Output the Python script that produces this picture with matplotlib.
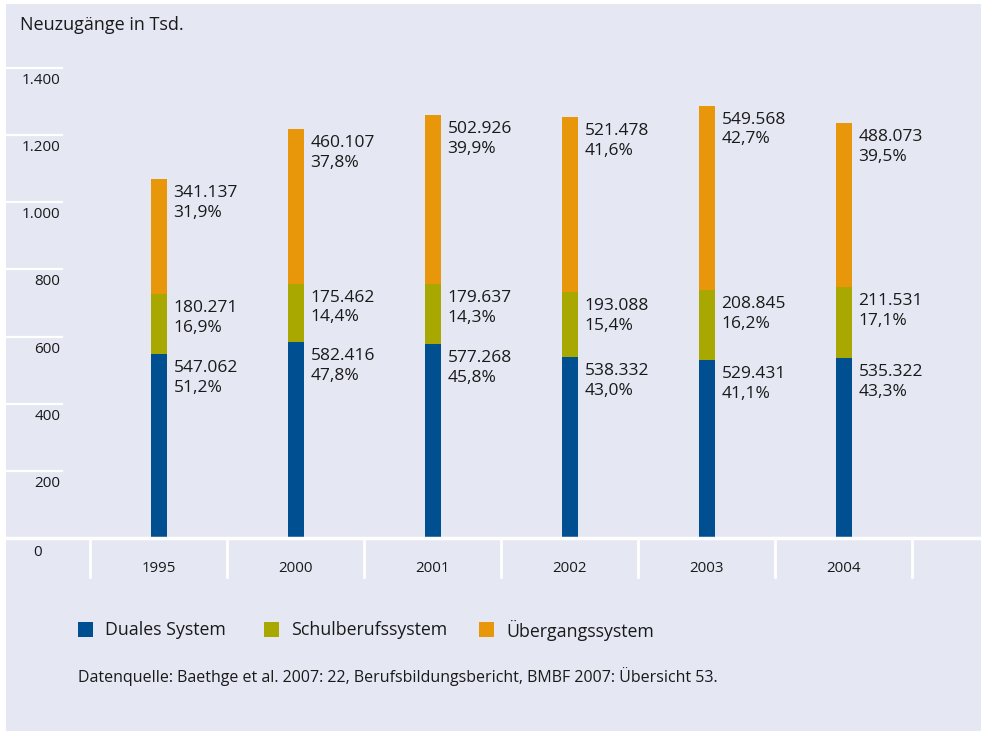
import matplotlib
matplotlib.use("Agg")
import matplotlib.pyplot as plt
from matplotlib.transforms import blended_transform_factory
from matplotlib.patches import Rectangle

plt.rcParams['font.family'] = ['Open Sans', 'DejaVu Sans']

years = ["1995", "2000", "2001", "2002", "2003", "2004"]
duales = [547.062, 582.416, 577.268, 538.332, 529.431, 535.322]
schul = [180.271, 175.462, 179.637, 193.088, 208.845, 211.531]
uebergang = [341.137, 460.107, 502.926, 521.478, 549.568, 488.073]
duales_pct = ["51,2%", "47,8%", "45,8%", "43,0%", "41,1%", "43,3%"]
schul_pct = ["16,9%", "14,4%", "14,3%", "15,4%", "16,2%", "17,1%"]
ueber_pct = ["31,9%", "37,8%", "39,9%", "41,6%", "42,7%", "39,5%"]
yticks = [200, 400, 600, 800, 1000, 1200, 1400]
ytick_labels = ["200", "400", "600", "800", "1.000", "1.200", "1.400"]
series_names = ["Duales System", "Schulberufssystem", "Übergangssystem"]
colors = ["#004f91", "#a9a800", "#e8960a"]
bg = "#e5e7f3"

W, H = 981, 731
fig = plt.figure(figsize=(W / 100, H / 100), dpi=100)
fig.patch.set_facecolor("white")
# panel background
bgrect = Rectangle((6 / W, 0), 1 - 6 / W, (H - 4) / H, transform=fig.transFigure,
                   facecolor=bg, edgecolor="none", zorder=-10)
fig.add_artist(bgrect)

ax_left, ax_right = 6, 981
y0_px, y1400_px = 538, 68
ax = fig.add_axes([ax_left / W, (H - y0_px) / H, (ax_right - ax_left) / W, (y0_px - y1400_px) / H])
ax.set_facecolor("none")
ax.set_zorder(1)
spacing = 137.0
c0 = 158.5
ax.set_xlim((ax_left - c0) / spacing, (ax_right - c0) / spacing)
ax.set_ylim(0, 1400)
for s in ax.spines.values():
    s.set_visible(False)
ax.set_xticks([])
ax.set_yticks([])

x = list(range(len(years)))
bw = 16 / spacing
b2 = [d + s for d, s in zip(duales, schul)]
ax.bar(x, duales, width=bw, color=colors[0], zorder=3)
ax.bar(x, schul, width=bw, bottom=duales, color=colors[1], zorder=3)
ax.bar(x, uebergang, width=bw, bottom=b2, color=colors[2], zorder=3)

# gridline stubs
tick_frac = (62 - ax_left) / (ax_right - ax_left)
for t, lab in zip(yticks, ytick_labels):
    ax.axhline(t, xmin=0, xmax=tick_frac, color="white", lw=1.6, zorder=2, clip_on=False)
    ax.annotate(lab, xy=(tick_frac, t), xycoords=("axes fraction", "data"),
                xytext=(-1.5, -12.5), textcoords="offset pixels", ha="right", va="center",
                fontsize=11, color="#1a1a1a", annotation_clip=False)
ax.axhline(0, color="white", lw=2.5, zorder=4, clip_on=False)
ax.annotate("0", xy=((42 - ax_left) / (ax_right - ax_left), 0), xycoords=("axes fraction", "data"),
            xytext=(0, -14), textcoords="offset pixels", ha="right", va="center",
            fontsize=11, color="#1a1a1a", annotation_clip=False)

# separators below axis
trans = blended_transform_factory(ax.transData, ax.transAxes)
sep_len = 39 / (y0_px - y1400_px)
for i in range(len(years) + 1):
    ax.plot([i - 0.5, i - 0.5], [0, -sep_len], color="white", lw=2, transform=trans, clip_on=False)
for i, yr in enumerate(years):
    ax.annotate(yr, xy=(i, 0), xycoords=("data", "data"), xytext=(0, -30), textcoords="offset pixels",
                ha="center", va="center", fontsize=10.8, color="#1a1a1a", annotation_clip=False)

# value labels
for i in range(len(years)):
    tops = [duales[i], b2[i], b2[i] + uebergang[i]]
    vals = [duales[i], schul[i], uebergang[i]]
    pcts = [duales_pct[i], schul_pct[i], ueber_pct[i]]
    for top, v, p in zip(tops, vals, pcts):
        ax.annotate(f"{v:.3f}\n{p}", xy=(i + bw / 2, top), xytext=(7, -6), textcoords="offset pixels",
                    ha="left", va="top", fontsize=12.5, linespacing=1.32, color="#1a1a1a", zorder=5,
                    annotation_clip=False)

# title
fig.text(20 / W, 1 - 25 / H, "Neuzugänge in Tsd.", fontsize=13, ha="left", va="center", color="#1a1a1a")

# legend
leg_x = [78, 264, 479]
for lx, name, col in zip(leg_x, series_names, colors):
    fig.add_artist(Rectangle((lx / W, 1 - 637 / H), 15 / W, 15 / H, transform=fig.transFigure,
                             facecolor=col, edgecolor="none"))
    fig.text((lx + 27) / W, 1 - 630 / H, name, fontsize=12.8, ha="left", va="center", color="#1a1a1a")

fig.text(78 / W, 1 - 677 / H, "Datenquelle: Baethge et al. 2007: 22, Berufsbildungsbericht, BMBF 2007: Übersicht 53.",
         fontsize=11.5, ha="left", va="center", color="#1a1a1a")

fig.savefig("out.png", dpi=100, facecolor=fig.get_facecolor())
